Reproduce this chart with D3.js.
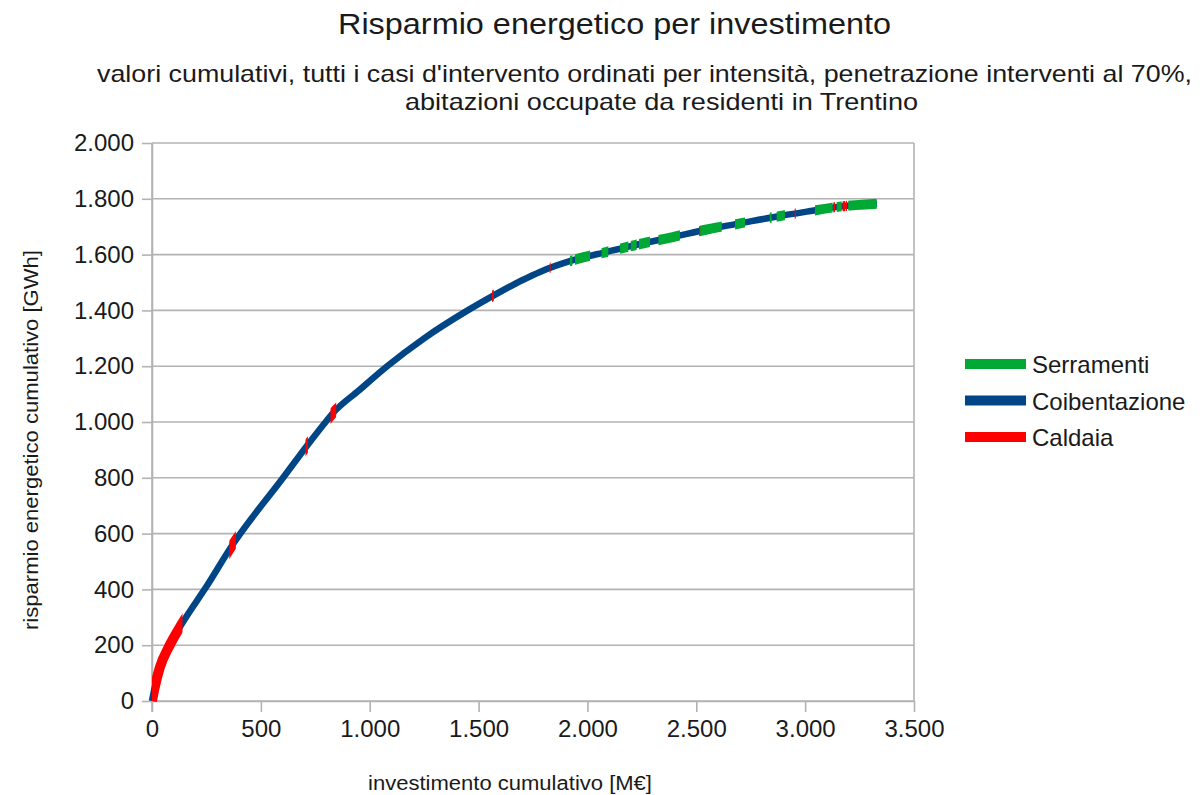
<!DOCTYPE html>
<html><head><meta charset="utf-8">
<script src="https://cdn.jsdelivr.net/npm/d3@7"></script>
<style>
body{margin:0;background:#fff;}
text{font-family:"Liberation Sans",Arial,sans-serif;}
</style></head>
<body><svg id="c" width="1204" height="795"></svg>
<script>
// cumulative curve (investment M€, savings GWh)
const invest  = [0, 10, 35, 80, 140, 250, 370, 602, 712, 790, 831, 950, 1080, 1250, 1450, 1566, 1700, 1782, 1934, 2090, 2241, 2393, 2549, 2701, 2852, 3008, 3160, 3330];
const savings = [0, 40, 118, 198, 280, 410, 560, 800, 915, 993, 1032, 1113, 1200, 1300, 1400, 1452, 1508, 1538, 1580, 1610, 1638, 1663, 1690, 1712, 1734, 1754, 1772, 1782];
// investment ranges where the intervention type is Serramenti / Caldaia (rest: Coibentazione)
const serramentiRanges = [[1920,1931],[1943,2012],[2065,2096],[2150,2188],[2199,2226],[2237,2287],[2326,2425],[2517,2617],[2678,2724],[2838,2846],[2869,2907],[3045,3126],[3145,3168],[3198,3329]];
const caldaiaRanges = [[0,140],[355,385],[705,716],[820,846],[1562,1570],[1827,1829],[2513,2518],[2952,2957],[3129,3137],[3172,3184],[3187,3192]];
const seriesNames = ["Serramenti","Coibentazione","Caldaia"];
const seriesColors = ["#00a933","#004586","#ff0000"];
const xTicks = [0,500,1000,1500,2000,2500,3000,3500];
const yTicks = [0,200,400,600,800,1000,1200,1400,1600,1800,2000];
const titleText = "Risparmio energetico per investimento";
const subtitle1 = "valori cumulativi, tutti i casi d'intervento ordinati per intensità, penetrazione interventi al 70%,";
const subtitle2 = "abitazioni occupate da residenti in Trentino";
const xTitle = "investimento cumulativo [M€]";
const yTitle = "risparmio energetico cumulativo [GWh]";

const loc = d3.formatLocale({decimal:",",thousands:".",grouping:[3],currency:["","€"]});
const fmt = loc.format(",");

const svg = d3.select("#c");
svg.append("rect").attr("width",1204).attr("height",795).attr("fill","#fff");

const L=152,R=914,T=143,B=701;
const x = d3.scaleLinear().domain([0,3500]).range([L,R]);
const y = d3.scaleLinear().domain([0,2000]).range([B,T]);
const grid="#b3b3b3";

svg.append("g").selectAll("line").data(yTicks).join("line")
  .attr("x1",L).attr("x2",R).attr("y1",d=>y(d)).attr("y2",d=>y(d))
  .attr("stroke",grid).attr("stroke-width",1.6);
svg.append("line").attr("x1",R).attr("x2",R).attr("y1",T).attr("y2",B)
  .attr("stroke",grid).attr("stroke-width",1.6);

const ya = svg.append("g").attr("transform",`translate(${L},0)`)
  .call(d3.axisLeft(y).tickValues(yTicks).tickSize(10).tickSizeOuter(0).tickPadding(8).tickFormat(fmt));
const xa = svg.append("g").attr("transform",`translate(0,${B})`)
  .call(d3.axisBottom(x).tickValues(xTicks).tickSize(11).tickSizeOuter(0).tickPadding(8).tickFormat(fmt));
[ya,xa].forEach(a=>{
  a.selectAll("path.domain").attr("stroke",grid).attr("stroke-width",1.6);
  a.selectAll(".tick line").attr("stroke",grid).attr("stroke-width",1.6);
  a.selectAll("text").attr("font-size",24).attr("fill","#1a1a1a")
   .style("font-family","'Liberation Sans',Arial,sans-serif");
});
svg.append("line").attr("x1",L).attr("x2",L).attr("y1",T).attr("y2",B+11).attr("stroke",grid).attr("stroke-width",1.6);

const pts = invest.map((v,i)=>[v,savings[i]]);
const line = d3.line().x(d=>x(d[0])).y(d=>y(d[1])).curve(d3.curveMonotoneX);
const defs = svg.append("defs");
function clipFor(id, ranges){
  const cp = defs.append("clipPath").attr("id",id);
  cp.selectAll("rect").data(ranges).join("rect")
    .attr("x",d=>x(d[0])).attr("width",d=>Math.max(0.8,x(d[1])-x(d[0])))
    .attr("y",0).attr("height",795);
}
clipFor("clipS",serramentiRanges);
clipFor("clipC",caldaiaRanges);

svg.append("path").datum(pts).attr("d",line).attr("fill","none")
  .attr("stroke",seriesColors[1]).attr("stroke-width",6.5);
svg.append("path").datum(pts).attr("d",line).attr("fill","none")
  .attr("stroke",seriesColors[0]).attr("stroke-width",10).attr("clip-path","url(#clipS)");
svg.append("path").datum(pts).attr("d",line).attr("fill","none")
  .attr("stroke",seriesColors[2]).attr("stroke-width",10).attr("clip-path","url(#clipC)");

function fitText(txt,x0,yb,size,len){
  svg.append("text").attr("x",x0).attr("y",yb).attr("font-size",size).attr("fill","#1a1a1a")
    .attr("textLength",len).attr("lengthAdjust","spacingAndGlyphs").text(txt);
}
fitText(titleText,338,34,30,553);
fitText(subtitle1,97,82,24,1095);
fitText(subtitle2,405,110,24,513);
fitText(xTitle,368,790,20,284);
svg.append("text").attr("transform","translate(38,630) rotate(-90)")
  .attr("font-size",20).attr("fill","#1a1a1a")
  .attr("textLength",380).attr("lengthAdjust","spacingAndGlyphs").text(yTitle);

const lg = svg.append("g").selectAll("g").data(seriesNames).join("g")
  .attr("transform",(d,i)=>`translate(965,${364+i*36.5})`);
lg.append("rect").attr("x",0).attr("y",-5).attr("width",61).attr("height",10)
  .attr("fill",(d,i)=>seriesColors[i]);
lg.append("text").attr("x",67).attr("y",9).attr("font-size",24).attr("fill","#1a1a1a").text(d=>d);
</script></body></html>
